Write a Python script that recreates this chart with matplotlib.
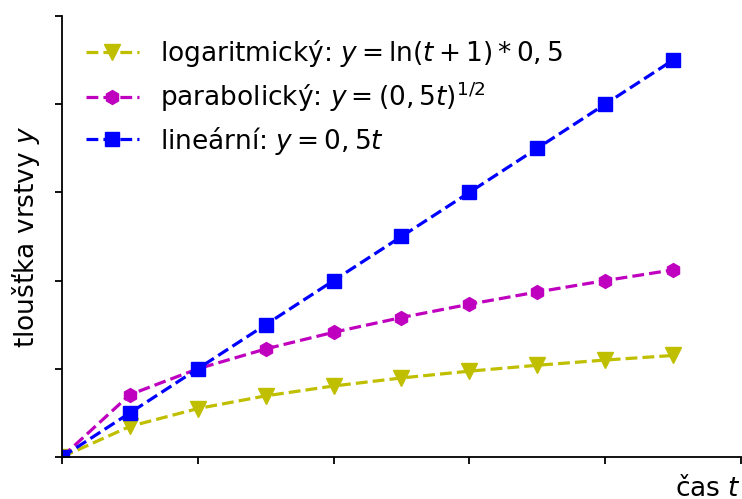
import matplotlib
matplotlib.use("Agg")
import matplotlib.pyplot as plt

t = [0, 1, 2, 3, 4, 5, 6, 7, 8, 9]
y_log = [0.0, 0.347, 0.549, 0.693, 0.805, 0.896, 0.973, 1.040, 1.099, 1.151]
y_par = [0.0, 0.707, 1.0, 1.225, 1.414, 1.581, 1.732, 1.871, 2.0, 2.121]
y_lin = [0.0, 0.5, 1.0, 1.5, 2.0, 2.5, 3.0, 3.5, 4.0, 4.5]

labels = [
    r"logaritmický: $y = \ln(t+1)*0,5$",
    r"parabolický: $y = (0,5t)^{1/2}$",
    r"lineární: $y = 0,5t$",
]

fig = plt.figure(figsize=(7.42, 4.99), dpi=100)
ax = fig.add_axes([0.0836, 0.0842, 0.9150, 0.8838])

ax.plot(t, y_log, "yv--", lw=2.3, ms=11, label=labels[0])
ax.plot(t, y_par, "mh--", lw=2.3, ms=10, label=labels[1])
ax.plot(t, y_lin, "bs--", lw=2.3, ms=10, label=labels[2])

ax.set_xlim(0, 10)
ax.set_ylim(0, 5)
ax.set_xticks([0, 2, 4, 6, 8, 10])
ax.set_yticks([0, 1, 2, 3, 4, 5])
ax.set_xticklabels([])
ax.set_yticklabels([])
ax.tick_params(direction="out", length=5, width=1.3)
for s in ["top", "right"]:
    ax.spines[s].set_visible(False)
for s in ["left", "bottom"]:
    ax.spines[s].set_linewidth(1.3)

ax.set_xlabel(r"čas $t$", fontsize=19, ha="right", x=1.0, labelpad=5)
ax.set_ylabel(r"tloušťka vrstvy $y$", fontsize=19, labelpad=6)

ax.legend(loc="upper left", frameon=False, fontsize=19,
          bbox_to_anchor=(0.0, 1.004), handlelength=2.0,
          handletextpad=0.83, labelspacing=0.4)

fig.savefig("out.png", dpi=100)
